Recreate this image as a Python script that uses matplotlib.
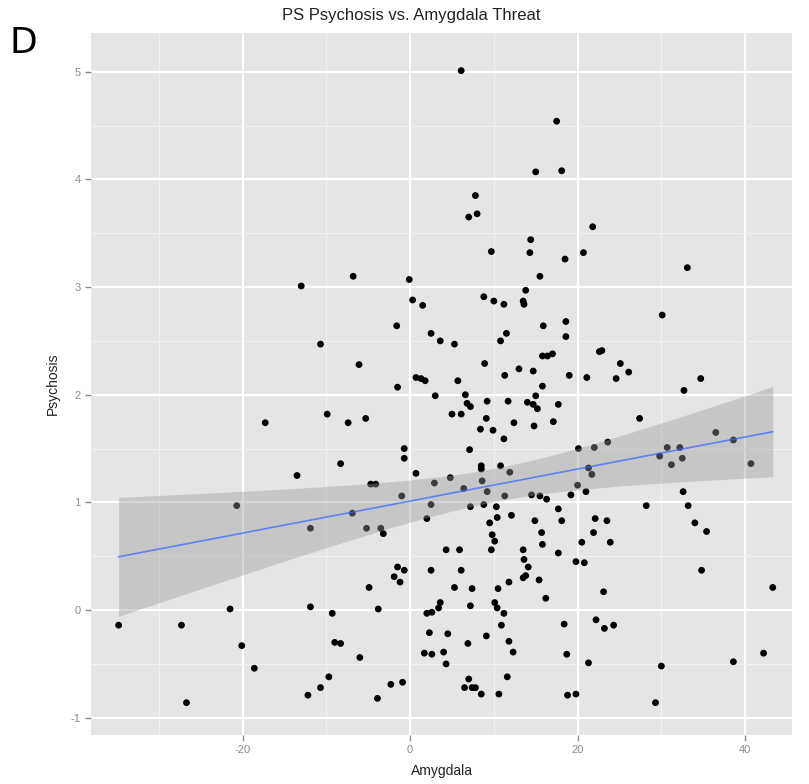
import numpy as np
import matplotlib
matplotlib.use("Agg")
import matplotlib.pyplot as plt
from matplotlib.ticker import MultipleLocator

plt.rcParams["axes.unicode_minus"] = False

title = "PS Psychosis vs. Amygdala Threat"
x_label = "Amygdala"
y_label = "Psychosis"
panel_label = "D"
x_ticks = [-20, 0, 20, 40]
y_ticks = [-1, 0, 1, 2, 3, 4, 5]

amygdala = [
    6.1, 17.5, 15.0, 18.1, 7.8, 7.0, 8.0, 14.4, 9.7, 14.3, 18.5, 21.8, 20.7, 33.1,
    -13.0, -10.7, -9.9, -17.3, -13.5, -20.7,
    -6.8, -0.1, 15.5, 13.8, 8.8, 10.0, 11.2, 13.5, 13.6, 0.3, 1.5, -1.6, 2.5, 3.6, 5.3,
    11.5, 10.8, 15.9, 18.6, 18.6, -6.1, 8.9, 15.8, 16.4, 17.0, 13.0, 11.3, 14.7, 19.0,
    0.7, 1.3, 1.8, 5.7, -1.5, 15.8, 3.0, 6.6, 6.8, 7.2, 9.2, 11.7, 15.0, 14.0, 14.7,
    15.2, 17.7, 5.0, 6.1, -7.4, -5.3, 9.1, 12.4, 14.8, 17.1, 8.4, 9.9, 11.2, -0.7,
    -0.7, 7.1, -8.3, 8.5, 8.5, 10.8, 11.9, 0.7, -4.7, -4.1, 2.9, 4.8, 8.6, 6.4, 9.2,
    -1.0, 11.3, 14.5, 15.5, 16.3, 19.2, 2.5, 7.2, 8.8, 10.3, 17.7,
    30.1, 22.6, 22.9, 25.1, 26.1, 21.1, 24.6, 34.7, 32.7, 27.4, 20.1, 22.0, 23.6,
    36.5, 38.6, 30.7, 32.2, 29.8, 32.5, 31.2, 40.7, 21.3, 21.7, 20.0, 21.0, 32.6,
    28.2, 33.2,
    -11.9, -21.5, -11.9, -9.3, -34.8, -27.3, -20.1, -9.0, -18.6, -9.7, -10.7, -12.2,
    -26.7,
    -6.9, 2.0, -5.2, -3.5, -3.2, 10.4, 12.1, 9.5, 18.1, 14.9, 15.7, 9.8, 10.1, 15.8,
    4.3, 5.9, 9.7, 13.5, 17.7, 13.6, 14.1, -1.5, -0.7, -1.9, -1.2, 2.5, 6.1, 13.5,
    13.8, 11.8, 15.4, -4.9, 5.3, 7.4, 10.5, 16.2, 3.6, 3.4, 7.2, 10.1, 10.4, 11.2,
    2.0, 2.6, -3.8, 18.4, 10.9, 2.3, 4.5, 9.1, 11.8, 12.3, 6.9, -8.3, 1.7, 2.6, 4.0,
    4.3, 18.7, -6.0, 11.6, 7.0, -2.3, -0.9, 6.5, 7.4, 7.8, 8.5, 10.6, -3.9, 18.8,
    22.1, 23.5, 21.9, 23.9, 20.5, 34.0, 35.4, 19.8, 20.8, 34.8, 43.3, 23.1, 22.2,
    23.2, 24.3, 21.3, 30.0, 38.6, 42.2, 19.8, 29.3,
]

psychosis = [
    5.01, 4.54, 4.07, 4.08, 3.85, 3.65, 3.68, 3.44, 3.33, 3.32, 3.26, 3.56, 3.32, 3.18,
    3.01, 2.47, 1.82, 1.74, 1.25, 0.97,
    3.10, 3.07, 3.10, 2.97, 2.91, 2.87, 2.84, 2.87, 2.84, 2.88, 2.83, 2.64, 2.57, 2.50,
    2.47, 2.57, 2.50, 2.64, 2.68, 2.54, 2.28, 2.29, 2.36, 2.36, 2.38, 2.24, 2.18, 2.22,
    2.18, 2.16, 2.15, 2.13, 2.13, 2.07, 2.08, 1.99, 2.00, 1.92, 1.89, 1.94, 1.94, 1.99,
    1.93, 1.91, 1.87, 1.91, 1.82, 1.82, 1.74, 1.78, 1.78, 1.74, 1.71, 1.75, 1.68, 1.67,
    1.59, 1.50, 1.41, 1.49, 1.36, 1.34, 1.31, 1.34, 1.28, 1.27, 1.17, 1.17, 1.18, 1.23,
    1.20, 1.13, 1.10, 1.06, 1.06, 1.07, 1.06, 1.03, 1.07, 0.98, 0.96, 0.98, 0.96, 0.94,
    2.74, 2.40, 2.41, 2.29, 2.21, 2.16, 2.15, 2.15, 2.04, 1.78, 1.50, 1.51, 1.56,
    1.65, 1.58, 1.51, 1.51, 1.43, 1.41, 1.35, 1.36, 1.32, 1.26, 1.16, 1.10, 1.10,
    0.97, 0.97,
    0.76, 0.01, 0.03, -0.03, -0.14, -0.14, -0.33, -0.30, -0.54, -0.62, -0.72, -0.79,
    -0.86,
    0.90, 0.85, 0.76, 0.76, 0.71, 0.86, 0.88, 0.81, 0.83, 0.83, 0.72, 0.70, 0.64, 0.61,
    0.56, 0.56, 0.56, 0.56, 0.53, 0.47, 0.40, 0.40, 0.37, 0.31, 0.26, 0.37, 0.37, 0.30,
    0.32, 0.26, 0.28, 0.21, 0.21, 0.20, 0.20, 0.11, 0.07, 0.02, 0.04, 0.07, 0.02, -0.03,
    -0.03, -0.02, 0.01, -0.13, -0.14, -0.21, -0.22, -0.24, -0.29, -0.39, -0.31, -0.31,
    -0.40, -0.41, -0.39, -0.50, -0.41, -0.44, -0.62, -0.64, -0.69, -0.67, -0.72, -0.72,
    -0.72, -0.78, -0.78, -0.82, -0.79,
    0.85, 0.83, 0.72, 0.63, 0.63, 0.81, 0.73, 0.45, 0.44, 0.37, 0.21, 0.17, -0.09,
    -0.17, -0.14, -0.49, -0.52, -0.48, -0.40, -0.78, -0.86,
]

x = np.array(amygdala, dtype=float)
y = np.array(psychosis, dtype=float)

# linear fit with 95% confidence band (like geom_smooth(method="lm"))
n = len(x)
slope, intercept = np.polyfit(x, y, 1)
resid = y - (intercept + slope * x)
s = np.sqrt(np.sum(resid ** 2) / (n - 2))
xbar = x.mean()
sxx = np.sum((x - xbar) ** 2)
xs = np.linspace(x.min(), x.max(), 200)
ys = intercept + slope * xs
se = s * np.sqrt(1.0 / n + (xs - xbar) ** 2 / sxx)
tq = 1.97
lo, hi = ys - tq * se, ys + tq * se

fig = plt.figure(figsize=(8.09, 7.84), dpi=100)
ax = fig.add_axes([0.1125, 0.0625, 0.979 - 0.1125, 0.958 - 0.0625])
ax.set_facecolor("#E5E5E5")
for sp in ax.spines.values():
    sp.set_visible(False)

ax.set_xlim(-38.1, 45.6)
ax.set_ylim(-1.16, 5.36)
ax.set_xticks(x_ticks)
ax.set_yticks(y_ticks)
ax.xaxis.set_minor_locator(MultipleLocator(10))
ax.yaxis.set_minor_locator(MultipleLocator(0.5))
ax.grid(which="major", color="white", linewidth=1.6, zorder=0)
ax.grid(which="minor", color="#F2F2F2", linewidth=0.8, zorder=0)
ax.set_axisbelow(True)
ax.tick_params(which="major", length=4, width=1, color="#8C8C8C",
               labelcolor="#8C8C8C", labelsize=8)
ax.tick_params(which="minor", length=0)
for lab in ax.get_xticklabels() + ax.get_yticklabels():
    lab.set_fontfamily("Liberation Sans")

ax.scatter(x, y, s=24, color="black", edgecolors="none", zorder=2)
ax.fill_between(xs, lo, hi, color="#999999", alpha=0.4, linewidth=0, zorder=3)
ax.plot(xs, ys, color="#3366FF", linewidth=1.2, alpha=0.7, zorder=4)

ax.set_xlabel(x_label, fontsize=10, family="Liberation Sans", labelpad=6,
              color="#222222")
ax.set_ylabel(y_label, fontsize=10, family="Liberation Sans", labelpad=8,
              color="#222222")
fig.text(0.508, 0.980, title, ha="center", va="center", fontsize=12,
         family="Liberation Sans", color="#222222")
fig.text(0.012, 0.945, panel_label, ha="left", va="center", fontsize=26,
         family="DejaVu Sans")

fig.savefig("out.png", dpi=100)
